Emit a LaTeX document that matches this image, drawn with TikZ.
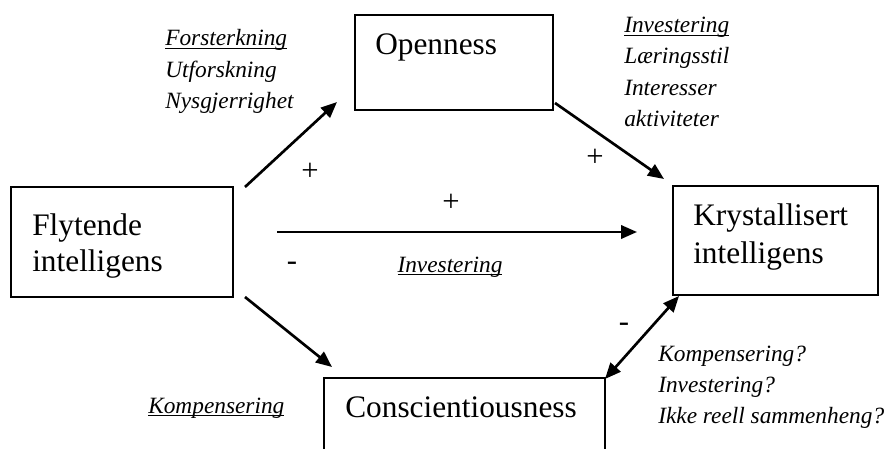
\documentclass[tikz,border=0pt]{standalone}
\usepackage{fontspec}
\setmainfont{Liberation Serif}
\usetikzlibrary{arrows.meta}
% underline with a heavier bar set close below the baseline
\newcommand{\ulbar}[1]{\setbox0\hbox{#1}\rlap{\rule[-2.6pt]{\wd0}{1.2pt}}\box0}
\begin{document}
\begin{tikzpicture}[x=0.75pt,y=-0.75pt,
  box/.style={draw, line width=1.5pt, rectangle, inner sep=0pt},
  openbox/.style={rectangle, inner sep=0pt},
  big/.style={anchor=base west, inner sep=0pt, font=\fontsize{23.5}{27}\selectfont},
  lab/.style={anchor=base west, inner sep=0pt, font=\fontsize{17.5}{21}\selectfont\itshape},
  sign/.style={inner sep=0pt, font=\fontsize{23}{26}\selectfont},
  tip/.tip={Triangle[length=12pt,width=10pt]},
  link/.style={line width=2pt, -tip},
  twoway/.style={line width=2pt, tip-tip}]
\useasboundingbox (0,0) rectangle (891,449);

% boxes
\node[box, minimum width=166.5pt, minimum height=82.5pt] (flyt) at (122,242) {};
\node[box, minimum width=148.5pt, minimum height=71.25pt] (open) at (454,62.5) {};
\node[box, minimum width=153.75pt, minimum height=81.75pt] (kryst) at (775.5,240.5) {};
\node[openbox, minimum width=210.75pt, minimum height=53.25pt] (consc) at (464.5,413.5) {};
\draw[line width=1.5pt] (consc.south west) -- (consc.north west) -- (consc.north east) -- (consc.south east);

% box texts
\node[big] (tf1) at (32,235) {Flytende};
\node[big] (tf2) at (32,271) {intelligens};
\node[big] (to) at (375,55) {Openness};
\node[big] (tk1) at (693,225) {Krystallisert};
\node[big] (tk2) at (693,263) {intelligens};
\node[big] (tc) at (345,417) {Conscientiousness};

% connector end points
\coordinate (a1s) at (245,187);
\coordinate (a1e) at (337,102);
\coordinate (a2s) at (555,103);
\coordinate (a2e) at (664,179);
\coordinate (a3s) at (277,232);
\coordinate (a3e) at (637,232);
\coordinate (a4s) at (245,297);
\coordinate (a4e) at (332,367);
\coordinate (a5s) at (679,296);
\coordinate (a5e) at (605,379);

\draw[link] (a1s) -- (a1e);
\draw[link] (a2s) -- (a2e);
\draw[link] (a3s) -- (a3e);
\draw[link] (a4s) -- (a4e);
\draw[twoway] (a5s) -- (a5e);

% signs
\node[sign] (p1) at (310,172) {+};
\node[sign] (p2) at (451,203) {+};
\node[sign] (p3) at (595,158) {+};
\node[sign] (m1) at (292,266) {-};
\node[sign] (m2) at (624,327) {-};

% mechanism labels
\node[lab] (l1) at (165,46) {\ulbar{Forsterkning}};
\node[lab] (l2) at (165,78) {Utforskning};
\node[lab] (l3) at (165,109) {Nysgjerrighet};

\node[lab] (r1) at (624,33) {\ulbar{Investering}};
\node[lab] (r2) at (624,64) {Læringsstil};
\node[lab] (r3) at (624,96) {Interesser};
\node[lab] (r4) at (624,127) {aktiviteter};

\node[lab, anchor=base] (mid) at (450,272) {\ulbar{Investering}};
\node[lab] (kb) at (148,413) {\ulbar{Kompensering}};

\node[lab] (q1) at (658,361) {Kompensering?};
\node[lab] (q2) at (658,392) {Investering?};
\node[lab] (q3) at (658,423) {Ikke reell sammenheng?};
\end{tikzpicture}
\end{document}
